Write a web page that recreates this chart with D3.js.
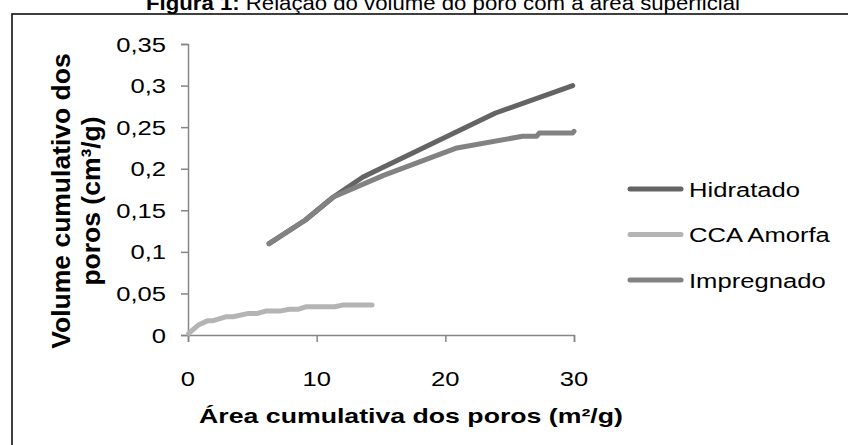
<!DOCTYPE html>
<html><head><meta charset="utf-8">
<script src="https://cdn.jsdelivr.net/npm/d3@7"></script>
<style>
html,body{margin:0;padding:0;background:#fff;overflow:hidden;}
text{font-family:"Liberation Sans",Arial,sans-serif;fill:#000;}
</style></head>
<body>
<svg id="c" width="848" height="445"></svg>
<script>
const seriesNames = ["Hidratado", "CCA Amorfa", "Impregnado"];
const seriesColors = ["#646464", "#b4b4b4", "#828282"];
const hidratadoX = [6.3, 9.1, 11.3, 13.6, 23.9, 29.9];
const hidratadoY = [0.110, 0.138, 0.166, 0.190, 0.267, 0.300];
const ccaX = [0.05, 0.8, 1.5, 1.9, 3.0, 3.5, 4.7, 5.4, 6.1, 7.2, 7.9, 8.6, 9.2, 11.4, 12.0, 14.3];
const ccaY = [0.002, 0.012, 0.017, 0.017, 0.022, 0.022, 0.026, 0.026, 0.029, 0.029, 0.031, 0.031, 0.034, 0.034, 0.036, 0.036];
const impregnadoX = [6.3, 9.1, 11.3, 15.2, 20.9, 26.0, 27.1, 27.3, 29.9, 30.0];
const impregnadoY = [0.110, 0.138, 0.166, 0.192, 0.225, 0.239, 0.239, 0.243, 0.243, 0.245];
const xTicks = [0, 10, 20, 30];
const yTicks = [0, 0.05, 0.1, 0.15, 0.2, 0.25, 0.3, 0.35];
const titleBold = "Figura 1:";
const titleRest = " Relação do volume do poro com a área superficial";
const xTitle = "Área cumulativa dos poros (m²/g)";
const yTitle1 = "Volume cumulativo dos";
const yTitle2 = "poros (cm³/g)";

const svg = d3.select("#c");
const x = d3.scaleLinear().domain([0, 30]).range([188, 574]);
const y = d3.scaleLinear().domain([0, 0.35]).range([335, 44]);
const axisColor = "#868686";
const SX = 1.22;

// frame
svg.append("rect").attr("x", 12).attr("y", 14).attr("width", 900).attr("height", 500)
  .attr("fill", "none").attr("stroke", "#111").attr("stroke-width", 1.6);

// title
const t = svg.append("text").attr("x", 443).attr("y", 10).attr("text-anchor", "middle")
  .style("font-size", "21px").attr("textLength", 594).attr("lengthAdjust", "spacingAndGlyphs");
t.append("tspan").style("font-weight", "bold").text(titleBold);
t.append("tspan").text(titleRest);

function label(px, py, str, opts) {
  const o = Object.assign({size: 21, sx: SX, anchor: "start", weight: "normal"}, opts || {});
  return svg.append("text")
    .attr("transform", `translate(${px},${py}) scale(${o.sx},1)`)
    .attr("text-anchor", o.anchor)
    .style("font-size", o.size + "px")
    .style("font-weight", o.weight)
    .text(str);
}

// axes
const yAxis = d3.axisLeft(y).tickValues(yTicks).tickSize(7).tickFormat("");
const gy = svg.append("g").attr("transform", "translate(188,0)").call(yAxis);
const xAxis = d3.axisBottom(x).tickValues(xTicks).tickSize(7).tickFormat("");
const gx = svg.append("g").attr("transform", "translate(0,335)").call(xAxis);
[gx, gy].forEach(g => {
  g.select(".domain").attr("stroke", axisColor).attr("stroke-width", 1.5);
  g.selectAll(".tick line").attr("stroke", axisColor).attr("stroke-width", 1.5);
});

const fmt = v => String(+v.toFixed(2)).replace(".", ",");
yTicks.forEach(v => label(166, y(v) + 7.5, fmt(v), {anchor: "end"}));
xTicks.forEach(v => label(x(v), 386, fmt(v), {anchor: "middle"}));

label(411, 423, xTitle, {weight: "bold", sx: 1.27, anchor: "middle"});

// y title
[[yTitle1, 70], [yTitle2, 100]].forEach(([s, bx]) => {
  svg.append("text")
    .attr("transform", `translate(${bx},201) rotate(-90) scale(1.06,1)`)
    .attr("text-anchor", "middle")
    .style("font-size", "25px").style("font-weight", "bold").text(s);
});

// series
const series = [
  {xs: hidratadoX, ys: hidratadoY},
  {xs: ccaX, ys: ccaY},
  {xs: impregnadoX, ys: impregnadoY}
];
const line = d3.line().x(d => x(d[0])).y(d => y(d[1]));
series.forEach((s, i) => {
  const pts = s.xs.map((v, j) => [v, s.ys[j]]);
  svg.append("path").datum(pts).attr("d", line)
    .attr("fill", "none").attr("stroke", seriesColors[i]).attr("stroke-width", 5)
    .attr("stroke-linecap", "round").attr("stroke-linejoin", "round");
});

// legend
seriesNames.forEach((n, i) => {
  const ly = 189 + i * 45.5;
  svg.append("line").attr("x1", 630).attr("x2", 681).attr("y1", ly).attr("y2", ly)
    .attr("stroke", seriesColors[i]).attr("stroke-width", 5).attr("stroke-linecap", "round");
  label(689, ly + 7.5, n, {});
});
</script>
</body></html>
